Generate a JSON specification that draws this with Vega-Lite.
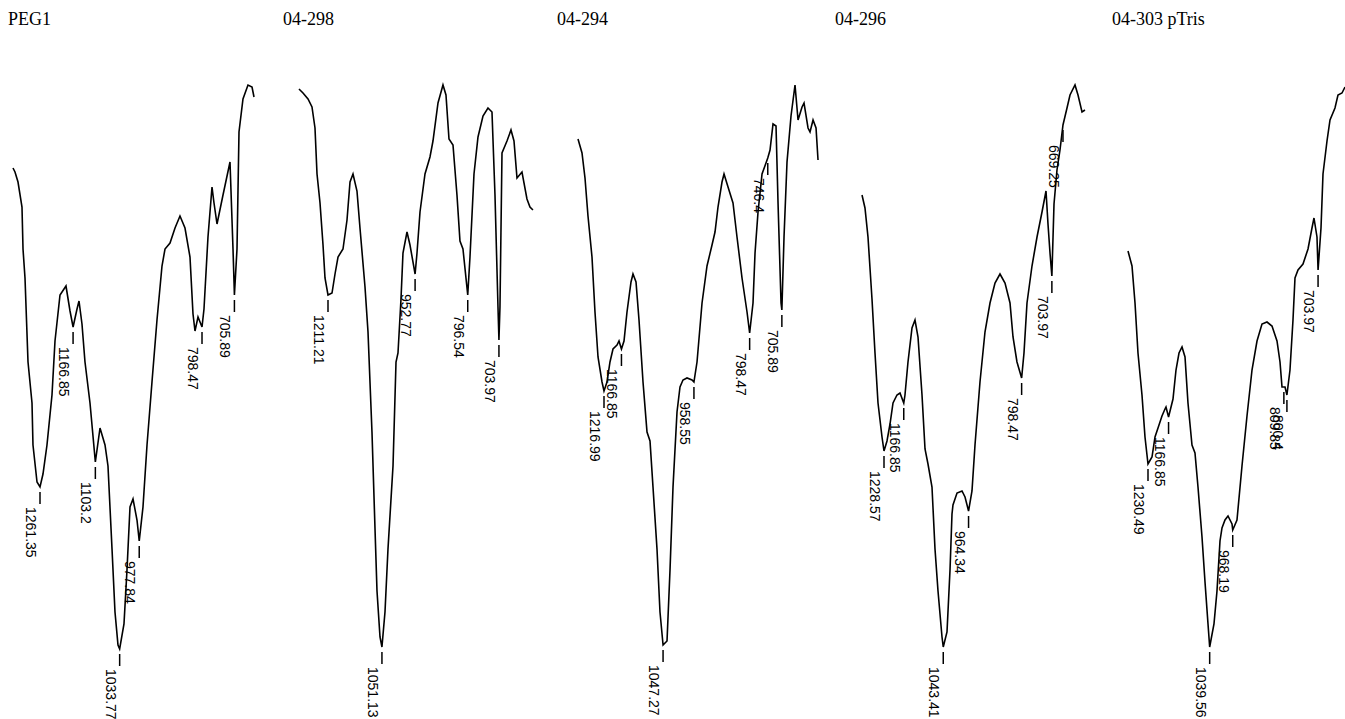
{
  "$schema": "https://vega.github.io/schema/vega-lite/v6.json",
  "background": "white",
  "padding": {"top": 11, "left": 0, "right": 0, "bottom": 0},
  "spacing": 0,
  "bounds": "flush",
  "config": {
    "view": {"stroke": null},
    "title": {"font": "Liberation Serif", "fontSize": 18, "fontWeight": "normal", "anchor": "start", "color": "black", "offset": 6}
  },
  "datasets": {
    "spectra": [
      {"s":"PEG1","wn":1338.5,"T":551},{"s":"PEG1","wn":1332.8,"T":547},{"s":"PEG1","wn":1324.2,"T":537},{"s":"PEG1","wn":1312.8,"T":512},{"s":"PEG1","wn":1309.9,"T":470},{"s":"PEG1","wn":1304.2,"T":441},{"s":"PEG1","wn":1295.6,"T":357},{"s":"PEG1","wn":1284.2,"T":316},{"s":"PEG1","wn":1281.4,"T":274},{"s":"PEG1","wn":1269.9,"T":237},{"s":"PEG1","wn":1261.35,"T":232},{"s":"PEG1","wn":1252.8,"T":245},{"s":"PEG1","wn":1241.4,"T":274},{"s":"PEG1","wn":1227.1,"T":324},{"s":"PEG1","wn":1218.5,"T":378},{"s":"PEG1","wn":1204.2,"T":424},{"s":"PEG1","wn":1187.1,"T":433},{"s":"PEG1","wn":1175.6,"T":408},{"s":"PEG1","wn":1166.85,"T":392},{"s":"PEG1","wn":1155.6,"T":410},{"s":"PEG1","wn":1149.9,"T":418},{"s":"PEG1","wn":1141.4,"T":395},{"s":"PEG1","wn":1132.8,"T":357},{"s":"PEG1","wn":1118.5,"T":316},{"s":"PEG1","wn":1103.2,"T":257},{"s":"PEG1","wn":1089.9,"T":291},{"s":"PEG1","wn":1075.6,"T":274},{"s":"PEG1","wn":1067.1,"T":253},{"s":"PEG1","wn":1055.6,"T":170},{"s":"PEG1","wn":1047.1,"T":107},{"s":"PEG1","wn":1038.5,"T":74},{"s":"PEG1","wn":1033.77,"T":70},{"s":"PEG1","wn":1021.4,"T":95},{"s":"PEG1","wn":1012.8,"T":149},{"s":"PEG1","wn":1004.2,"T":212},{"s":"PEG1","wn":995.6,"T":220},{"s":"PEG1","wn":984.2,"T":199},{"s":"PEG1","wn":977.84,"T":178},{"s":"PEG1","wn":967.1,"T":212},{"s":"PEG1","wn":955.6,"T":274},{"s":"PEG1","wn":941.4,"T":337},{"s":"PEG1","wn":927.1,"T":399},{"s":"PEG1","wn":912.8,"T":453},{"s":"PEG1","wn":904.2,"T":470},{"s":"PEG1","wn":889.9,"T":476},{"s":"PEG1","wn":875.6,"T":491},{"s":"PEG1","wn":861.4,"T":503},{"s":"PEG1","wn":847.1,"T":491},{"s":"PEG1","wn":832.8,"T":462},{"s":"PEG1","wn":824.2,"T":405},{"s":"PEG1","wn":818.5,"T":388},{"s":"PEG1","wn":809.9,"T":402},{"s":"PEG1","wn":798.47,"T":392},{"s":"PEG1","wn":792.8,"T":410},{"s":"PEG1","wn":781.4,"T":482},{"s":"PEG1","wn":769.9,"T":532},{"s":"PEG1","wn":764.2,"T":516},{"s":"PEG1","wn":755.6,"T":495},{"s":"PEG1","wn":738.5,"T":524},{"s":"PEG1","wn":718.5,"T":557},{"s":"PEG1","wn":709.9,"T":470},{"s":"PEG1","wn":705.89,"T":424},{"s":"PEG1","wn":698.5,"T":470},{"s":"PEG1","wn":692.8,"T":587},{"s":"PEG1","wn":681.4,"T":620},{"s":"PEG1","wn":667.1,"T":634},{"s":"PEG1","wn":655.6,"T":632},{"s":"PEG1","wn":649.9,"T":622},

      {"s":"04-298","wn":1297.3,"T":630},{"s":"04-298","wn":1285.4,"T":626},{"s":"04-298","wn":1270.5,"T":620},{"s":"04-298","wn":1258.7,"T":612},{"s":"04-298","wn":1249.8,"T":591},{"s":"04-298","wn":1243.8,"T":545},{"s":"04-298","wn":1234.9,"T":516},{"s":"04-298","wn":1226.0,"T":474},{"s":"04-298","wn":1220.1,"T":441},{"s":"04-298","wn":1211.21,"T":424},{"s":"04-298","wn":1199.3,"T":426},{"s":"04-298","wn":1190.4,"T":445},{"s":"04-298","wn":1181.5,"T":462},{"s":"04-298","wn":1166.7,"T":470},{"s":"04-298","wn":1154.8,"T":499},{"s":"04-298","wn":1145.9,"T":537},{"s":"04-298","wn":1137.0,"T":545},{"s":"04-298","wn":1125.2,"T":528},{"s":"04-298","wn":1116.3,"T":491},{"s":"04-298","wn":1101.4,"T":432},{"s":"04-298","wn":1092.5,"T":387},{"s":"04-298","wn":1080.7,"T":287},{"s":"04-298","wn":1071.8,"T":191},{"s":"04-298","wn":1065.8,"T":128},{"s":"04-298","wn":1056.9,"T":82},{"s":"04-298","wn":1051.13,"T":72},{"s":"04-298","wn":1042.1,"T":107},{"s":"04-298","wn":1033.2,"T":170},{"s":"04-298","wn":1018.3,"T":253},{"s":"04-298","wn":1009.4,"T":357},{"s":"04-298","wn":1003.5,"T":366},{"s":"04-298","wn":994.6,"T":420},{"s":"04-298","wn":988.7,"T":466},{"s":"04-298","wn":976.8,"T":487},{"s":"04-298","wn":967.9,"T":474},{"s":"04-298","wn":952.77,"T":445},{"s":"04-298","wn":947.1,"T":466},{"s":"04-298","wn":938.2,"T":507},{"s":"04-298","wn":923.4,"T":545},{"s":"04-298","wn":908.6,"T":562},{"s":"04-298","wn":899.7,"T":578},{"s":"04-298","wn":884.8,"T":616},{"s":"04-298","wn":870.0,"T":634},{"s":"04-298","wn":861.1,"T":624},{"s":"04-298","wn":852.2,"T":580},{"s":"04-298","wn":840.3,"T":574},{"s":"04-298","wn":828.5,"T":524},{"s":"04-298","wn":819.6,"T":478},{"s":"04-298","wn":810.7,"T":470},{"s":"04-298","wn":796.54,"T":424},{"s":"04-298","wn":789.9,"T":462},{"s":"04-298","wn":778.0,"T":545},{"s":"04-298","wn":766.1,"T":582},{"s":"04-298","wn":751.3,"T":603},{"s":"04-298","wn":736.5,"T":611},{"s":"04-298","wn":724.6,"T":607},{"s":"04-298","wn":715.7,"T":524},{"s":"04-298","wn":706.8,"T":412},{"s":"04-298","wn":703.97,"T":379},{"s":"04-298","wn":700.9,"T":412},{"s":"04-298","wn":694.9,"T":566},{"s":"04-298","wn":680.1,"T":578},{"s":"04-298","wn":668.2,"T":589},{"s":"04-298","wn":659.3,"T":578},{"s":"04-298","wn":650.4,"T":541},{"s":"04-298","wn":635.6,"T":547},{"s":"04-298","wn":620.8,"T":520},{"s":"04-298","wn":611.9,"T":512},{"s":"04-298","wn":603.0,"T":509},

      {"s":"04-294","wn":1291.7,"T":580},{"s":"04-294","wn":1280.2,"T":566},{"s":"04-294","wn":1271.6,"T":541},{"s":"04-294","wn":1263.0,"T":503},{"s":"04-294","wn":1251.5,"T":462},{"s":"04-294","wn":1242.9,"T":407},{"s":"04-294","wn":1234.2,"T":362},{"s":"04-294","wn":1222.7,"T":337},{"s":"04-294","wn":1216.99,"T":328},{"s":"04-294","wn":1208.4,"T":337},{"s":"04-294","wn":1199.8,"T":357},{"s":"04-294","wn":1191.1,"T":370},{"s":"04-294","wn":1179.6,"T":374},{"s":"04-294","wn":1173.9,"T":378},{"s":"04-294","wn":1166.85,"T":370},{"s":"04-294","wn":1159.5,"T":378},{"s":"04-294","wn":1150.9,"T":407},{"s":"04-294","wn":1139.4,"T":437},{"s":"04-294","wn":1133.7,"T":445},{"s":"04-294","wn":1125.0,"T":437},{"s":"04-294","wn":1116.4,"T":399},{"s":"04-294","wn":1104.9,"T":337},{"s":"04-294","wn":1093.4,"T":287},{"s":"04-294","wn":1084.8,"T":278},{"s":"04-294","wn":1076.2,"T":232},{"s":"04-294","wn":1064.7,"T":170},{"s":"04-294","wn":1056.1,"T":107},{"s":"04-294","wn":1047.27,"T":74},{"s":"04-294","wn":1035.9,"T":78},{"s":"04-294","wn":1027.3,"T":149},{"s":"04-294","wn":1018.7,"T":232},{"s":"04-294","wn":1007.2,"T":307},{"s":"04-294","wn":998.6,"T":332},{"s":"04-294","wn":990.0,"T":339},{"s":"04-294","wn":978.5,"T":341},{"s":"04-294","wn":964.1,"T":339},{"s":"04-294","wn":958.55,"T":337},{"s":"04-294","wn":949.7,"T":357},{"s":"04-294","wn":935.3,"T":416},{"s":"04-294","wn":921.0,"T":453},{"s":"04-294","wn":906.6,"T":474},{"s":"04-294","wn":898.0,"T":487},{"s":"04-294","wn":889.4,"T":512},{"s":"04-294","wn":877.9,"T":537},{"s":"04-294","wn":872.1,"T":545},{"s":"04-294","wn":860.6,"T":532},{"s":"04-294","wn":846.3,"T":516},{"s":"04-294","wn":834.8,"T":482},{"s":"04-294","wn":820.4,"T":441},{"s":"04-294","wn":806.0,"T":407},{"s":"04-294","wn":798.47,"T":386},{"s":"04-294","wn":788.8,"T":416},{"s":"04-294","wn":783.0,"T":466},{"s":"04-294","wn":774.4,"T":507},{"s":"04-294","wn":762.9,"T":545},{"s":"04-294","wn":746.4,"T":561},{"s":"04-294","wn":739.9,"T":569},{"s":"04-294","wn":731.3,"T":595},{"s":"04-294","wn":722.7,"T":593},{"s":"04-294","wn":716.9,"T":516},{"s":"04-294","wn":708.3,"T":416},{"s":"04-294","wn":705.89,"T":409},{"s":"04-294","wn":699.7,"T":482},{"s":"04-294","wn":691.1,"T":557},{"s":"04-294","wn":679.6,"T":603},{"s":"04-294","wn":668.1,"T":634},{"s":"04-294","wn":659.4,"T":599},{"s":"04-294","wn":647.9,"T":612},{"s":"04-294","wn":642.2,"T":616},{"s":"04-294","wn":630.7,"T":591},{"s":"04-294","wn":625.0,"T":587},{"s":"04-294","wn":616.3,"T":599},{"s":"04-294","wn":607.7,"T":591},{"s":"04-294","wn":602.0,"T":559},

      {"s":"04-296","wn":1297.3,"T":524},{"s":"04-296","wn":1288.0,"T":511},{"s":"04-296","wn":1278.6,"T":482},{"s":"04-296","wn":1266.1,"T":420},{"s":"04-296","wn":1256.7,"T":366},{"s":"04-296","wn":1247.3,"T":316},{"s":"04-296","wn":1234.8,"T":282},{"s":"04-296","wn":1228.57,"T":268},{"s":"04-296","wn":1219.2,"T":278},{"s":"04-296","wn":1209.8,"T":295},{"s":"04-296","wn":1200.4,"T":316},{"s":"04-296","wn":1188.0,"T":324},{"s":"04-296","wn":1178.6,"T":326},{"s":"04-296","wn":1166.85,"T":316},{"s":"04-296","wn":1163.0,"T":324},{"s":"04-296","wn":1153.6,"T":357},{"s":"04-296","wn":1141.1,"T":391},{"s":"04-296","wn":1131.7,"T":399},{"s":"04-296","wn":1122.3,"T":382},{"s":"04-296","wn":1109.8,"T":324},{"s":"04-296","wn":1100.4,"T":270},{"s":"04-296","wn":1091.1,"T":255},{"s":"04-296","wn":1078.6,"T":232},{"s":"04-296","wn":1069.2,"T":170},{"s":"04-296","wn":1059.8,"T":128},{"s":"04-296","wn":1047.3,"T":82},{"s":"04-296","wn":1043.41,"T":72},{"s":"04-296","wn":1031.7,"T":87},{"s":"04-296","wn":1022.3,"T":149},{"s":"04-296","wn":1016.1,"T":205},{"s":"04-296","wn":1013.0,"T":214},{"s":"04-296","wn":1000.4,"T":226},{"s":"04-296","wn":984.8,"T":228},{"s":"04-296","wn":975.4,"T":222},{"s":"04-296","wn":964.34,"T":208},{"s":"04-296","wn":953.6,"T":228},{"s":"04-296","wn":944.2,"T":274},{"s":"04-296","wn":928.6,"T":337},{"s":"04-296","wn":913.0,"T":387},{"s":"04-296","wn":897.3,"T":416},{"s":"04-296","wn":881.7,"T":436},{"s":"04-296","wn":866.1,"T":445},{"s":"04-296","wn":850.4,"T":436},{"s":"04-296","wn":834.8,"T":416},{"s":"04-296","wn":825.4,"T":382},{"s":"04-296","wn":813.0,"T":357},{"s":"04-296","wn":798.47,"T":341},{"s":"04-296","wn":791.1,"T":366},{"s":"04-296","wn":781.7,"T":416},{"s":"04-296","wn":766.1,"T":453},{"s":"04-296","wn":750.4,"T":482},{"s":"04-296","wn":734.8,"T":507},{"s":"04-296","wn":722.3,"T":528},{"s":"04-296","wn":716.1,"T":495},{"s":"04-296","wn":709.8,"T":466},{"s":"04-296","wn":703.97,"T":443},{"s":"04-296","wn":697.3,"T":515},{"s":"04-296","wn":688.0,"T":549},{"s":"04-296","wn":678.6,"T":569},{"s":"04-296","wn":669.25,"T":594},{"s":"04-296","wn":656.7,"T":611},{"s":"04-296","wn":647.3,"T":624},{"s":"04-296","wn":631.7,"T":634},{"s":"04-296","wn":622.3,"T":624},{"s":"04-296","wn":609.8,"T":607},{"s":"04-296","wn":600.5,"T":609},

      {"s":"04-303 pTris","wn":1292.4,"T":468},{"s":"04-303 pTris","wn":1280.0,"T":453},{"s":"04-303 pTris","wn":1270.7,"T":416},{"s":"04-303 pTris","wn":1261.5,"T":366},{"s":"04-303 pTris","wn":1249.1,"T":324},{"s":"04-303 pTris","wn":1239.8,"T":282},{"s":"04-303 pTris","wn":1230.49,"T":255},{"s":"04-303 pTris","wn":1218.1,"T":262},{"s":"04-303 pTris","wn":1208.8,"T":282},{"s":"04-303 pTris","wn":1199.5,"T":291},{"s":"04-303 pTris","wn":1187.2,"T":303},{"s":"04-303 pTris","wn":1177.9,"T":310},{"s":"04-303 pTris","wn":1174.8,"T":312},{"s":"04-303 pTris","wn":1166.85,"T":302},{"s":"04-303 pTris","wn":1153.1,"T":320},{"s":"04-303 pTris","wn":1143.8,"T":349},{"s":"04-303 pTris","wn":1134.5,"T":366},{"s":"04-303 pTris","wn":1125.2,"T":372},{"s":"04-303 pTris","wn":1115.9,"T":362},{"s":"04-303 pTris","wn":1106.7,"T":316},{"s":"04-303 pTris","wn":1094.3,"T":274},{"s":"04-303 pTris","wn":1085.0,"T":266},{"s":"04-303 pTris","wn":1075.7,"T":232},{"s":"04-303 pTris","wn":1063.3,"T":182},{"s":"04-303 pTris","wn":1054.0,"T":137},{"s":"04-303 pTris","wn":1044.7,"T":95},{"s":"04-303 pTris","wn":1039.56,"T":72},{"s":"04-303 pTris","wn":1026.2,"T":95},{"s":"04-303 pTris","wn":1016.9,"T":128},{"s":"04-303 pTris","wn":1007.6,"T":178},{"s":"04-303 pTris","wn":1001.4,"T":191},{"s":"04-303 pTris","wn":992.1,"T":199},{"s":"04-303 pTris","wn":982.8,"T":203},{"s":"04-303 pTris","wn":970.4,"T":195},{"s":"04-303 pTris","wn":968.19,"T":189},{"s":"04-303 pTris","wn":955.0,"T":199},{"s":"04-303 pTris","wn":939.5,"T":253},{"s":"04-303 pTris","wn":924.0,"T":303},{"s":"04-303 pTris","wn":908.5,"T":349},{"s":"04-303 pTris","wn":893.0,"T":378},{"s":"04-303 pTris","wn":877.6,"T":395},{"s":"04-303 pTris","wn":862.1,"T":397},{"s":"04-303 pTris","wn":846.6,"T":393},{"s":"04-303 pTris","wn":831.1,"T":378},{"s":"04-303 pTris","wn":821.8,"T":357},{"s":"04-303 pTris","wn":815.6,"T":332},{"s":"04-303 pTris","wn":806.3,"T":332},{"s":"04-303 pTris","wn":800.4,"T":324},{"s":"04-303 pTris","wn":790.9,"T":349},{"s":"04-303 pTris","wn":781.6,"T":399},{"s":"04-303 pTris","wn":775.4,"T":441},{"s":"04-303 pTris","wn":766.1,"T":449},{"s":"04-303 pTris","wn":750.6,"T":455},{"s":"04-303 pTris","wn":735.1,"T":470},{"s":"04-303 pTris","wn":722.8,"T":491},{"s":"04-303 pTris","wn":716.6,"T":501},{"s":"04-303 pTris","wn":707.3,"T":482},{"s":"04-303 pTris","wn":703.97,"T":449},{"s":"04-303 pTris","wn":694.9,"T":491},{"s":"04-303 pTris","wn":688.7,"T":545},{"s":"04-303 pTris","wn":676.3,"T":578},{"s":"04-303 pTris","wn":667.0,"T":599},{"s":"04-303 pTris","wn":651.6,"T":611},{"s":"04-303 pTris","wn":642.3,"T":624},{"s":"04-303 pTris","wn":629.9,"T":626},{"s":"04-303 pTris","wn":620.6,"T":632}
    ],
    "peaks": [
      {"s":"PEG1","wn":1261.35,"T":232},{"s":"PEG1","wn":1166.85,"T":392},{"s":"PEG1","wn":1103.2,"T":257},{"s":"PEG1","wn":1033.77,"T":70},{"s":"PEG1","wn":977.84,"T":178},{"s":"PEG1","wn":798.47,"T":392},{"s":"PEG1","wn":705.89,"T":424},
      {"s":"04-298","wn":1211.21,"T":424},{"s":"04-298","wn":1051.13,"T":72},{"s":"04-298","wn":952.77,"T":445},{"s":"04-298","wn":796.54,"T":424},{"s":"04-298","wn":703.97,"T":379},
      {"s":"04-294","wn":1216.99,"T":328},{"s":"04-294","wn":1166.85,"T":370},{"s":"04-294","wn":1047.27,"T":74},{"s":"04-294","wn":958.55,"T":337},{"s":"04-294","wn":798.47,"T":386},{"s":"04-294","wn":746.4,"T":561},{"s":"04-294","wn":705.89,"T":409},
      {"s":"04-296","wn":1228.57,"T":268},{"s":"04-296","wn":1166.85,"T":316},{"s":"04-296","wn":1043.41,"T":72},{"s":"04-296","wn":964.34,"T":208},{"s":"04-296","wn":798.47,"T":341},{"s":"04-296","wn":703.97,"T":443},{"s":"04-296","wn":669.25,"T":594},
      {"s":"04-303 pTris","wn":1230.49,"T":255},{"s":"04-303 pTris","wn":1166.85,"T":302},{"s":"04-303 pTris","wn":1039.56,"T":72},{"s":"04-303 pTris","wn":968.19,"T":189},{"s":"04-303 pTris","wn":809.85,"T":332},{"s":"04-303 pTris","wn":800.4,"T":324},{"s":"04-303 pTris","wn":703.97,"T":449}
    ]
  },
  "hconcat": [
    {
      "width": 273, "height": 684,
      "title": {"text": "PEG1", "dx": 8},
      "encoding": {
        "x": {"field": "wn", "type": "quantitative", "axis": null, "scale": {"domain": [595.64, 1375.64], "reverse": true, "nice": false, "zero": false}},
        "y": {"field": "T", "type": "quantitative", "axis": null, "scale": {"domain": [0, 684], "nice": false, "zero": false}}
      },
      "layer": [
        {"data": {"name": "spectra"}, "transform": [{"filter": {"field": "s", "equal": "PEG1"}}], "mark": {"type": "line", "color": "black", "strokeWidth": 1.6}},
        {"data": {"name": "peaks"}, "transform": [{"filter": {"field": "s", "equal": "PEG1"}}], "mark": {"type": "rule", "color": "black", "strokeWidth": 1.5, "yOffset": 5, "y2Offset": 17}, "encoding": {"y2": {"field": "T"}}},
        {"data": {"name": "peaks"}, "transform": [{"filter": {"field": "s", "equal": "PEG1"}}], "mark": {"type": "text", "angle": 90, "align": "left", "baseline": "top", "dx": 20, "dy": 3, "font": "Liberation Sans", "fontSize": 14, "color": "black"}, "encoding": {"text": {"field": "wn", "type": "nominal"}}}
      ]
    },
    {
      "width": 273, "height": 684,
      "title": {"text": "04-298", "dx": 10},
      "encoding": {
        "x": {"field": "wn", "type": "quantitative", "axis": null, "scale": {"domain": [564.32, 1374.41], "reverse": true, "nice": false, "zero": false}},
        "y": {"field": "T", "type": "quantitative", "axis": null, "scale": {"domain": [0, 684], "nice": false, "zero": false}}
      },
      "layer": [
        {"data": {"name": "spectra"}, "transform": [{"filter": {"field": "s", "equal": "04-298"}}], "mark": {"type": "line", "color": "black", "strokeWidth": 1.6}},
        {"data": {"name": "peaks"}, "transform": [{"filter": {"field": "s", "equal": "04-298"}}], "mark": {"type": "rule", "color": "black", "strokeWidth": 1.5, "yOffset": 5, "y2Offset": 17}, "encoding": {"y2": {"field": "T"}}},
        {"data": {"name": "peaks"}, "transform": [{"filter": {"field": "s", "equal": "04-298"}}], "mark": {"type": "text", "angle": 90, "align": "left", "baseline": "top", "dx": 20, "dy": 3, "font": "Liberation Sans", "fontSize": 14, "color": "black"}, "encoding": {"text": {"field": "wn", "type": "nominal"}}}
      ]
    },
    {
      "width": 273, "height": 684,
      "title": {"text": "04-294", "dx": 11},
      "encoding": {
        "x": {"field": "wn", "type": "quantitative", "axis": null, "scale": {"domain": [599.18, 1383.66], "reverse": true, "nice": false, "zero": false}},
        "y": {"field": "T", "type": "quantitative", "axis": null, "scale": {"domain": [0, 684], "nice": false, "zero": false}}
      },
      "layer": [
        {"data": {"name": "spectra"}, "transform": [{"filter": {"field": "s", "equal": "04-294"}}], "mark": {"type": "line", "color": "black", "strokeWidth": 1.6}},
        {"data": {"name": "peaks"}, "transform": [{"filter": {"field": "s", "equal": "04-294"}}], "mark": {"type": "rule", "color": "black", "strokeWidth": 1.5, "yOffset": 5, "y2Offset": 17}, "encoding": {"y2": {"field": "T"}}},
        {"data": {"name": "peaks"}, "transform": [{"filter": {"field": "s", "equal": "04-294"}}], "mark": {"type": "text", "angle": 90, "align": "left", "baseline": "top", "dx": 20, "dy": 3, "font": "Liberation Sans", "fontSize": 14, "color": "black"}, "encoding": {"text": {"field": "wn", "type": "nominal"}}}
      ]
    },
    {
      "width": 273, "height": 684,
      "title": {"text": "04-296", "dx": 16},
      "encoding": {
        "x": {"field": "wn", "type": "quantitative", "axis": null, "scale": {"domain": [578.57, 1431.70], "reverse": true, "nice": false, "zero": false}},
        "y": {"field": "T", "type": "quantitative", "axis": null, "scale": {"domain": [0, 684], "nice": false, "zero": false}}
      },
      "layer": [
        {"data": {"name": "spectra"}, "transform": [{"filter": {"field": "s", "equal": "04-296"}}], "mark": {"type": "line", "color": "black", "strokeWidth": 1.6}},
        {"data": {"name": "peaks"}, "transform": [{"filter": {"field": "s", "equal": "04-296"}}], "mark": {"type": "rule", "color": "black", "strokeWidth": 1.5, "yOffset": 5, "y2Offset": 17}, "encoding": {"y2": {"field": "T"}}},
        {"data": {"name": "peaks"}, "transform": [{"filter": {"field": "s", "equal": "04-296"}}], "mark": {"type": "text", "angle": 90, "align": "left", "baseline": "top", "dx": 20, "dy": 3, "font": "Liberation Sans", "fontSize": 14, "color": "black"}, "encoding": {"text": {"field": "wn", "type": "nominal"}}}
      ]
    },
    {
      "width": 253, "height": 684,
      "title": {"text": "04-303 pTris", "dx": 20},
      "encoding": {
        "x": {"field": "wn", "type": "quantitative", "axis": null, "scale": {"domain": [620.58, 1403.86], "reverse": true, "nice": false, "zero": false}},
        "y": {"field": "T", "type": "quantitative", "axis": null, "scale": {"domain": [0, 684], "nice": false, "zero": false}}
      },
      "layer": [
        {"data": {"name": "spectra"}, "transform": [{"filter": {"field": "s", "equal": "04-303 pTris"}}], "mark": {"type": "line", "color": "black", "strokeWidth": 1.6}},
        {"data": {"name": "peaks"}, "transform": [{"filter": {"field": "s", "equal": "04-303 pTris"}}], "mark": {"type": "rule", "color": "black", "strokeWidth": 1.5, "yOffset": 5, "y2Offset": 17}, "encoding": {"y2": {"field": "T"}}},
        {"data": {"name": "peaks"}, "transform": [{"filter": {"field": "s", "equal": "04-303 pTris"}}], "mark": {"type": "text", "angle": 90, "align": "left", "baseline": "top", "dx": 20, "dy": 3, "font": "Liberation Sans", "fontSize": 14, "color": "black"}, "encoding": {"text": {"field": "wn", "type": "nominal"}}}
      ]
    }
  ]
}
